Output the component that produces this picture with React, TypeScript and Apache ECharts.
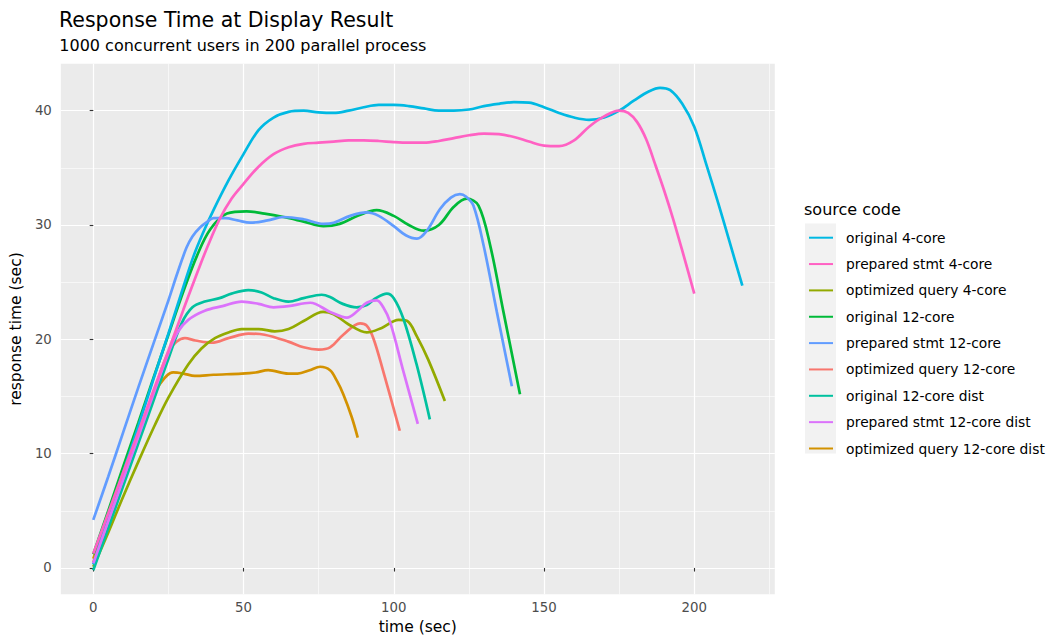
import React, { useEffect, useRef } from "react";
import * as echarts from "echarts";

// ---- data (time sec, response time sec) ----
const original4Core: [number, number][] = [
  [0, 0.3], [5, 4.4], [10, 8.4], [15, 12.4], [20, 16.5], [25, 20.5], [30, 24.6], [33.4, 27.3], [36.5, 29.3],
  [40, 31.3], [45, 33.9], [50, 36.2], [55, 38.3], [60, 39.4], [65, 39.9], [70, 40.0], [75, 39.85], [80, 39.8],
  [85, 40.0], [90, 40.3], [95, 40.5], [100, 40.5], [105, 40.4], [110, 40.2], [115, 40.0], [120, 40.0],
  [125, 40.1], [130, 40.4], [135, 40.6], [140, 40.75], [145, 40.7], [150, 40.3], [155, 39.8], [160, 39.4],
  [165, 39.2], [170, 39.4], [175, 40.0], [180, 40.9], [185, 41.7], [188.6, 42.0], [192, 41.8], [196, 40.6],
  [200, 38.6], [204, 35.3], [208, 31.9], [212, 28.3], [216, 24.7],
];
const preparedStmt4Core: [number, number][] = [
  [0, 1.25], [5, 4.8], [10, 8.4], [15, 11.9], [20, 15.5], [25, 19.0], [30, 22.6], [35, 26.1], [38, 28.1],
  [42, 30.5], [46, 32.3], [50, 33.6], [55, 35.1], [60, 36.2], [65, 36.8], [70, 37.1], [75, 37.2], [80, 37.3],
  [85, 37.4], [90, 37.4], [95, 37.35], [100, 37.25], [105, 37.2], [110, 37.2], [115, 37.35], [120, 37.6],
  [125, 37.85], [130, 38.0], [135, 37.95], [140, 37.7], [145, 37.3], [150, 36.95], [155, 36.9], [160, 37.4],
  [165, 38.6], [170, 39.5], [175, 40.0], [178, 39.8], [181, 39.0], [184, 37.5], [187, 35.3], [190, 33.0],
  [193, 30.5], [196.5, 27.3], [200, 24.0],
];
const optimizedQuery4Core: [number, number][] = [
  [0, 0.1], [5, 3.1], [9.4, 5.9], [15, 9.3], [20.5, 12.5], [25, 14.9], [31.6, 17.8], [36, 19.2], [40.5, 20.1],
  [45, 20.6], [49.4, 20.9], [55, 20.9], [60.4, 20.7], [65, 20.9], [70, 21.6], [76.5, 22.4], [80, 22.2],
  [85, 21.3], [91, 20.6], [96, 21.0], [101.6, 21.7], [104.5, 21.6], [107.6, 20.3], [111.5, 18.2], [117, 14.6],
];
const original12Core: [number, number][] = [
  [0, 1.2], [5, 5.0], [10, 8.9], [15, 12.7], [20, 16.6], [25, 20.4], [30, 24.2], [34.5, 27.3], [38.9, 29.6],
  [44.5, 31.0], [51, 31.2], [57, 31.0], [63.3, 30.7], [70, 30.3], [76.6, 29.9], [82, 30.1], [88, 30.8],
  [94.3, 31.3], [100, 30.8], [105, 30.0], [110, 29.5], [115, 30.0], [120, 31.6], [124.3, 32.3], [128.2, 31.7],
  [132.1, 28.2], [136.5, 22.4], [142, 15.2],
];
const preparedStmt12Core: [number, number][] = [
  [0, 4.2], [5, 8.0], [10, 11.9], [15, 15.8], [20, 19.6], [25, 23.4], [28, 25.8], [31, 28.0], [33, 29.0],
  [35.6, 29.8], [38, 30.3], [40, 30.6], [44, 30.6], [48, 30.4], [52.2, 30.2], [58, 30.4], [63.3, 30.7],
  [70, 30.5], [76.6, 30.1], [80, 30.2], [85.5, 30.8], [91, 31.1], [95, 30.8], [100, 29.9], [104, 29.1],
  [107.7, 28.8], [111, 29.5], [115.4, 31.4], [119, 32.4], [122, 32.7], [124, 32.5], [126.5, 31.7],
  [129.9, 28.2], [134.3, 22.4], [139.3, 15.9],
];
const optimizedQuery12Core: [number, number][] = [
  [0, 0.5], [5, 4.2], [10, 7.9], [15, 11.6], [20, 15.3], [25.5, 19.1], [30.5, 20.1], [34, 19.9], [39.4, 19.7],
  [45, 20.1], [51.6, 20.5], [57, 20.4], [64.9, 19.8], [70, 19.3], [75, 19.1], [78.8, 19.3], [83.2, 20.4],
  [88.8, 21.4], [91, 21.2], [93.2, 20.1], [96.5, 17.2], [102, 12.0],
];
const original12CoreDist: [number, number][] = [
  [0, -0.2], [5, 3.5], [10, 7.2], [15, 10.9], [20, 14.6], [25, 18.3], [29.4, 21.4], [33, 22.8], [37.1, 23.3],
  [42, 23.6], [46, 24.0], [51.6, 24.3], [56, 24.1], [60, 23.6], [64.9, 23.3], [70, 23.6], [76, 23.9],
  [78.8, 23.7], [83, 23.1], [87.7, 22.8], [91, 23.0], [94, 23.6], [97.7, 24.0], [100, 23.6], [103.2, 21.8],
  [107.6, 17.8], [112, 13.0],
];
const preparedStmt12CoreDist: [number, number][] = [
  [0, 0.4], [5, 4.1], [10, 7.8], [15, 11.5], [20, 15.2], [25, 18.8], [28, 20.6], [31.6, 21.7], [37.1, 22.5],
  [43, 22.9], [49.4, 23.3], [55, 23.1], [60, 22.8], [64.9, 22.9], [72.2, 23.2], [78.8, 22.4], [84.4, 21.9],
  [88, 22.5], [91, 23.2], [94.3, 23.4], [96.5, 22.8], [98.8, 21.5], [103.2, 17.2], [108, 12.6],
];
const optimizedQuery12CoreDist: [number, number][] = [
  [0, 0.8], [5, 4.4], [10, 8.0], [15, 11.6], [19, 14.4], [22.2, 16.1], [26.6, 17.1], [30, 17.0], [33.8, 16.8],
  [40, 16.9], [49.4, 17.0], [54, 17.1], [58.2, 17.3], [64.9, 17.0], [68, 17.0], [72, 17.3], [75.5, 17.6],
  [78.8, 17.3], [81, 16.4], [83.2, 15.2], [86, 13.2], [88, 11.4],
];

// legend order
const legendNames = [
  "original 4-core",
  "prepared stmt 4-core",
  "optimized query 4-core",
  "original 12-core",
  "prepared stmt 12-core",
  "optimized query 12-core",
  "original 12-core dist",
  "prepared stmt 12-core dist",
  "optimized query 12-core dist",
];

// drawing order (alphabetical factor levels, as ggplot draws them)
const drawOrder = [
  { name: "optimized query 12-core", color: "#F8766D", data: optimizedQuery12Core },
  { name: "optimized query 12-core dist", color: "#D39200", data: optimizedQuery12CoreDist },
  { name: "optimized query 4-core", color: "#93AA00", data: optimizedQuery4Core },
  { name: "original 12-core", color: "#00BA38", data: original12Core },
  { name: "original 12-core dist", color: "#00C19F", data: original12CoreDist },
  { name: "original 4-core", color: "#00B9E3", data: original4Core },
  { name: "prepared stmt 12-core", color: "#619CFF", data: preparedStmt12Core },
  { name: "prepared stmt 12-core dist", color: "#DB72FB", data: preparedStmt12CoreDist },
  { name: "prepared stmt 4-core", color: "#FF61C3", data: preparedStmt4Core },
];

const xMajorTicks = [0, 50, 100, 150, 200];
const xMinorTicks = [25, 75, 125, 175, 225];
const yMajorTicks = [0, 10, 20, 30, 40];
const yMinorTicks = [5, 15, 25, 35];

const FONT = "'DejaVu Sans', Verdana, sans-serif";

export default function App() {
  const ref = useRef<HTMLDivElement>(null);

  useEffect(() => {
    if (!ref.current) return;
    const chart = echarts.init(ref.current, undefined, { renderer: "svg" });

    const xMin = -10.8;
    const xMax = 226.8;
    const yMin = -2.31;
    const yMax = 44.11;

    const hiddenAxisParts = {
      axisLine: { show: false },
      axisLabel: { show: false },
      axisTick: { show: false },
    };

    chart.setOption({
      animation: false,
      backgroundColor: "#ffffff",
      textStyle: { fontFamily: FONT },
      title: [
        {
          text: "Response Time at Display Result",
          left: 59,
          top: 9.75,
          padding: 0,
          textStyle: { fontSize: 20.5, lineHeight: 20.5, fontWeight: "normal", color: "#000000", fontFamily: FONT },
        },
        {
          text: "1000 concurrent users in 200 parallel process",
          left: 59.3,
          top: 37.7,
          padding: 0,
          textStyle: { fontSize: 16, lineHeight: 16, fontWeight: "normal", color: "#000000", fontFamily: FONT },
        },
        {
          text: "source code",
          left: 804,
          top: 201.1,
          padding: 0,
          textStyle: { fontSize: 16, lineHeight: 16, fontWeight: "normal", color: "#000000", fontFamily: FONT },
        },
      ],
      graphic: [
        {
          type: "rect",
          shape: { x: 805, y: 223.5, width: 31, height: 230 },
          style: { fill: "#F2F2F2" },
          z: -1,
          silent: true,
        },
      ],
      legend: {
        data: legendNames,
        orient: "vertical",
        left: 808,
        top: 229.7,
        padding: 0,
        itemWidth: 24,
        itemHeight: 16,
        itemGap: 10.35,
        selectedMode: false,
        itemStyle: { opacity: 0 },
        textStyle: { fontSize: 13.8, lineHeight: 16, color: "#000000", fontFamily: FONT, padding: [0, 0, 0, 8] },
      },
      grid: {
        left: 60.5,
        right: 278.2,
        top: 63.7,
        bottom: 42.4,
        show: true,
        backgroundColor: "#EBEBEB",
        borderWidth: 0,
        containLabel: false,
      },
      xAxis: [
        {
          type: "value",
          min: xMin,
          max: xMax,
          position: "bottom",
          name: "time (sec)",
          nameLocation: "middle",
          nameGap: 23.15,
          nameTextStyle: { fontSize: 15.5, lineHeight: 15.5, color: "#000000", fontFamily: FONT },
          axisLine: { show: false },
          axisTick: { show: true, length: 3.6, lineStyle: { color: "#333333", width: 1.1 }, customValues: xMajorTicks },
          axisLabel: { show: true, margin: 6.75, fontSize: 13.3, color: "#4D4D4D", fontFamily: FONT, customValues: xMajorTicks },
          splitLine: { show: true, lineStyle: { color: "#FFFFFF", width: 1.2 } },
        },
        {
          type: "value",
          min: xMin,
          max: xMax,
          position: "bottom",
          ...hiddenAxisParts,
          axisTick: { show: false, customValues: xMinorTicks },
          axisLabel: { show: false, customValues: xMinorTicks },
          splitLine: { show: true, lineStyle: { color: "#FFFFFF", width: 0.6 } },
        },
      ],
      yAxis: [
        {
          type: "value",
          min: yMin,
          max: yMax,
          position: "left",
          name: "response time (sec)",
          nameLocation: "middle",
          nameGap: 32.75,
          nameRotate: 90,
          nameTextStyle: { fontSize: 15.5, lineHeight: 15.5, color: "#000000", fontFamily: FONT },
          axisLine: { show: false },
          axisTick: { show: true, length: 3.6, lineStyle: { color: "#333333", width: 1.1 }, customValues: yMajorTicks },
          axisLabel: { show: true, margin: 9, fontSize: 13.3, color: "#4D4D4D", fontFamily: FONT, customValues: yMajorTicks },
          splitLine: { show: true, lineStyle: { color: "#FFFFFF", width: 1.2 } },
        },
        {
          type: "value",
          min: yMin,
          max: yMax,
          position: "left",
          ...hiddenAxisParts,
          axisTick: { show: false, customValues: yMinorTicks },
          axisLabel: { show: false, customValues: yMinorTicks },
          splitLine: { show: true, lineStyle: { color: "#FFFFFF", width: 0.6 } },
        },
      ],
      series: drawOrder.map((s) => ({
        name: s.name,
        type: "line",
        xAxisIndex: 0,
        yAxisIndex: 0,
        data: s.data,
        smooth: 0.35,
        showSymbol: false,
        symbol: "none",
        color: s.color,
        lineStyle: { color: s.color, width: 2.7, cap: "butt" },
        emphasis: { disabled: true },
        silent: true,
        clip: true,
      })),
    });

    return () => {
      chart.dispose();
    };
  }, []);

  return (
    <div
      ref={ref}
      style={{ position: "fixed", left: 0, top: 0, width: 1053, height: 640 }}
    />
  );
}
